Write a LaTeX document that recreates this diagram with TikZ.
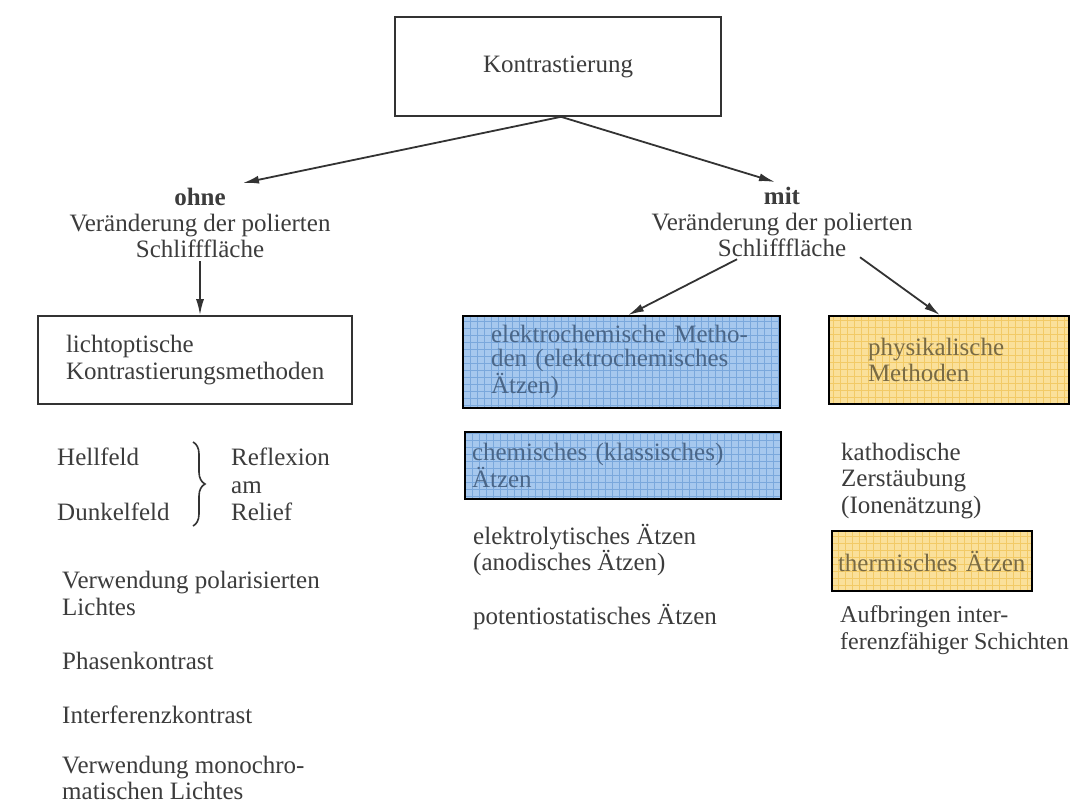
\documentclass[tikz,border=0pt]{standalone}
\usepackage{fontspec}
\setmainfont{Liberation Serif}
\usetikzlibrary{arrows.meta,decorations.pathreplacing}
\definecolor{txt}{HTML}{3C3C3C}
\definecolor{lineC}{HTML}{333333}
\definecolor{blueF}{HTML}{A6C8EE}
\definecolor{blueG}{HTML}{7AA8DC}
\definecolor{blueT}{HTML}{4A6688}
\definecolor{yelF}{HTML}{FAE09A}
\definecolor{yelG}{HTML}{F2CA66}
\definecolor{yelT}{HTML}{786A44}
\tikzset{
  lbl/.style={text=txt, inner sep=0pt},
  plainbox/.style={draw=lineC, line width=1.6pt, text=txt, inner ysep=0pt},
  bluebox/.style={draw=black, line width=1.8pt, fill=blueF, text=blueT, inner ysep=0pt, align=left,
    path picture={\draw[blueG, line width=0.5pt] (path picture bounding box.south west) grid[step=7pt] (path picture bounding box.north east);}},
  yelbox/.style={draw=black, line width=1.8pt, fill=yelF, text=yelT, inner ysep=0pt, align=left,
    path picture={\draw[yelG, line width=0.5pt] (path picture bounding box.south west) grid[step=7pt] (path picture bounding box.north east);}},
  arr/.style={draw=lineC, line width=1.8pt, -{Latex[length=16pt,width=8pt]}}
}
\begin{document}
\begin{tikzpicture}[x=1pt,y=-1pt, font=\fontsize{25}{26.5}\selectfont]
\useasboundingbox[fill=white] (0,0) rectangle (1075,806);

% top
\node[plainbox, minimum width=326pt, minimum height=99pt] (top) at (558,66.5) {Kontrastierung};

% ohne branch
\node[lbl] (ohne) at (200,197) {\textbf{ohne}};
\node[lbl, align=center] (ohneT) at (200,236) {Veränderung der polierten\\Schlifffläche};
\node[plainbox, text width=258pt, inner xsep=28pt, minimum height=88pt, align=left] (licht) at (195,360)
  {lichtoptische\\Kontrastierungsmethoden};

% mit branch
\node[lbl] (mit) at (782,196) {\textbf{mit}};
\node[lbl, align=center] (mitT) at (782,235) {Veränderung der polierten\\Schlifffläche};

\node[bluebox, text width=261pt, inner xsep=28pt, minimum height=92pt, font=\fontsize{25}{24.5}\selectfont] (el) at (621.5,362)
  {elektrochemische Metho-\\den (elektrochemisches\\Ätzen)};
\node[bluebox, text width=302pt, inner xsep=7pt, minimum height=67pt] (chem) at (623,465.5)
  {chemisches (klassisches)\\Ätzen};
\node[yelbox, text width=162pt, inner xsep=39pt, minimum height=88pt] (phys) at (949,360)
  {physikalische\\Methoden};
\node[yelbox, text width=188pt, inner xsep=6pt, minimum height=60pt] (therm) at (932,561)
  {thermisches Ätzen};

% left lists
\node[lbl, anchor=west] (hell) at (57,457) {Hellfeld};
\node[lbl, anchor=west] (dunkel) at (57,512) {Dunkelfeld};
\node[lbl, anchor=west, align=left, font=\fontsize{25}{27.5}\selectfont] (refl) at (231,484.5) {Reflexion\\am\\Relief};
\draw[lineC, line width=1.6pt, decorate, decoration={brace, amplitude=12pt}] (193,442) -- (193,526);

\node[lbl, anchor=west, align=left, font=\fontsize{25}{27}\selectfont] (pol) at (62,593.5) {Verwendung polarisierten\\Lichtes};
\node[lbl, anchor=west] (phase) at (62,661) {Phasenkontrast};
\node[lbl, anchor=west] (interf) at (62,715) {Interferenzkontrast};
\node[lbl, anchor=west, align=left, font=\fontsize{25}{26.5}\selectfont] (mono) at (62,778) {Verwendung monochro-\\matischen Lichtes};

% middle lists
\node[lbl, anchor=west, align=left] (elyt) at (473,550) {elektrolytisches Ätzen\\(anodisches Ätzen)};
\node[lbl, anchor=west] (pot) at (473,617) {potentiostatisches Ätzen};

% right lists
\node[lbl, anchor=west, align=left] (kath) at (841,481) {kathodische\\Zerstäubung\\(Ionenätzung)};
\node[lbl, anchor=west, align=left, font=\fontsize{24}{26.5}\selectfont] (aufb) at (840,630) {Aufbringen inter-\\ferenzfähiger Schichten};

% arrows
\coordinate (tipL) at (243,183);
\coordinate (tipR) at (775,182);
\draw[arr] ([xshift=3pt]top.south) -- (tipL);
\draw[arr] ([xshift=3pt]top.south) -- (tipR);
\draw[arr] ([yshift=-3pt]ohneT.south) -- (ohneT.south |- licht.north);
\draw[arr] ([xshift=-45pt,yshift=-2pt]mitT.south) -- ([xshift=6.5pt]el.north);
\draw[arr] ([xshift=78pt]mitT.south) -- ([xshift=-9pt]phys.north);
\end{tikzpicture}
\end{document}
